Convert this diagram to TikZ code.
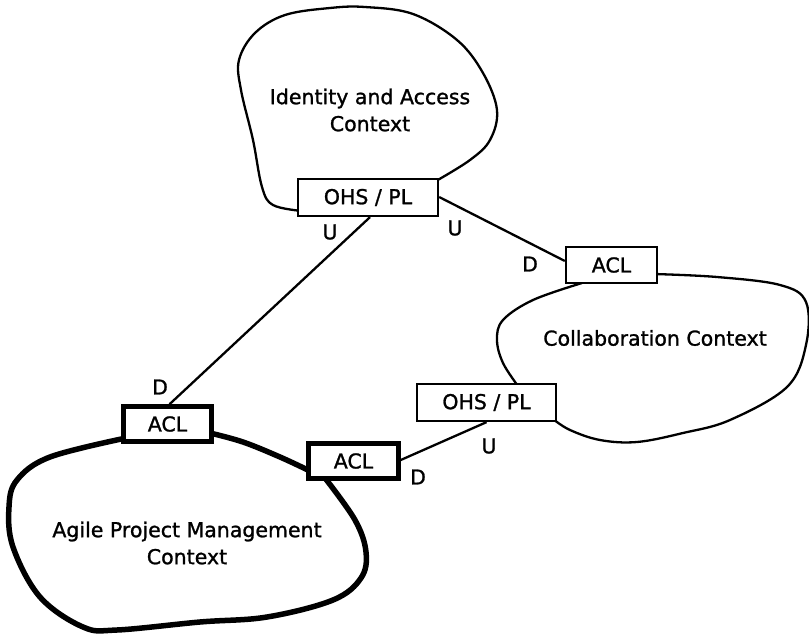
\documentclass[tikz,border=0pt]{standalone}
\usepackage{fontspec}
\setmainfont[FakeBold=1.2,AutoFakeBold=1.2]{DejaVu Sans}
\begin{document}
\begin{tikzpicture}[x=1pt,y=-1pt,
  every node/.style={font=\fontsize{20.5}{27}\selectfont},
  blob/.style={draw=black,line width=2.3pt,line join=round,line cap=round},
  thickblob/.style={draw=black,line width=5.5pt,line join=round,line cap=round},
  pbox/.style={draw=black,fill=white,line width=2.3pt,inner sep=0pt},
  tbox/.style={draw=black,fill=white,line width=4.5pt,inner sep=0pt},
  link/.style={draw=black,line width=2.3pt},
  lab/.style={inner sep=0pt}]
\useasboundingbox (0,0) rectangle (809,635);
% Identity and Access blob
\draw[blob] plot[smooth,tension=0.6] coordinates {(302,211) (273,205) (262,187) (253,140) (241,90) (239,60) (255,33) (285,15) (330,8) (365,7) (413,14) (457,40) (483,73) (497,110) (490,140) (470,160) (436,181)};
% Collaboration blob
\draw[blob] plot[smooth,tension=0.6] coordinates {(654,274) (717,277) (780,285) (806,302) (806,345) (787,387) (730,420) (683,433) (637,442) (600,440) (570,430) (553,419)};
\draw[blob] plot[smooth,tension=0.6] coordinates {(518,386) (503,363) (497,340) (503,320) (533,300) (582,283)};
% Agile blob
\draw[thickblob] plot[smooth,tension=0.6] coordinates {(126,438) (50,457) (17,480) (9,507) (13,547) (40,597) (83,627) (117,630) (200,622) (267,617) (333,600) (361,578) (366,552) (355,520) (325,478)};
\draw[thickblob] plot[smooth,tension=0.6] coordinates {(310,471) (280,457) (243,442) (210,433)};
% boxes
\node[pbox,minimum width=140pt,minimum height=37pt] (ohs1) at (368,197.5) {\textbf{OHS / PL}};
\node[pbox,minimum width=91pt,minimum height=36pt] (acl2) at (611.5,265) {\textbf{ACL}};
\node[pbox,minimum width=139pt,minimum height=37pt] (ohs2) at (486.5,402.5) {\textbf{OHS / PL}};
\node[tbox,minimum width=88pt,minimum height=35pt] (acl1) at (167.5,424) {\textbf{ACL}};
\node[tbox,minimum width=90pt,minimum height=35pt] (acl3) at (353.5,461) {\textbf{ACL}};
% context names
\node[align=center,font=\fontsize{20.5}{27}\selectfont\bfseries] (idt) at (370,110) {Identity and Access\\Context};
\node[font=\fontsize{20.5}{27}\selectfont\bfseries] (col) at (655,338) {Collaboration Context};
\node[align=center,font=\fontsize{20.5}{27}\selectfont\bfseries] (agl) at (187,543) {Agile Project Management\\Context};
% connectors
\draw[link] ([xshift=2pt]ohs1.south) -- ([xshift=2pt]acl1.north);
\draw[link] ([yshift=0.5pt]ohs1.east) -- ([yshift=4pt]acl2.west);
\draw[link] (ohs2.south) -- ([yshift=1pt]acl3.east);
% U / D labels
\node[lab] (u1) at (330,232) {\textbf{U}};
\node[lab] (u2) at (455,228) {\textbf{U}};
\node[lab] (d1) at (530,264) {\textbf{D}};
\node[lab] (d2) at (160,387) {\textbf{D}};
\node[lab] (u3) at (489,446) {\textbf{U}};
\node[lab] (d3) at (418,477) {\textbf{D}};
\end{tikzpicture}
\end{document}
